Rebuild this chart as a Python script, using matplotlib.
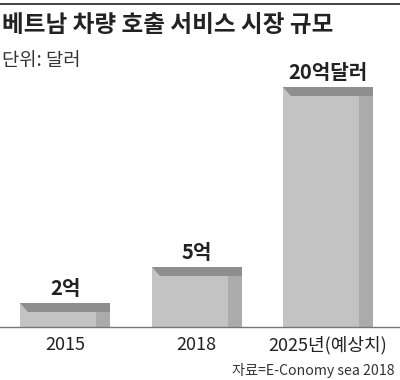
import matplotlib
matplotlib.use("Agg")
import matplotlib.pyplot as plt
from matplotlib.patches import Polygon

plt.rcParams['font.family'] = ['Noto Sans CJK KR', 'DejaVu Sans']

# data
years = ['2015', '2018', '2025년(예상치)']
values = [2, 5, 20]
value_labels = ['2억', '5억', '20억달러']

title = '베트남 차량 호출 서비스 시장 규모'
unit = '단위: 달러'
source = '자료=E-Conomy sea 2018'

face = '#c3c3c3'
top_c = '#8e8e8e'
side_c = '#ababab'

fig = plt.figure(figsize=(4, 3.8), dpi=100)

# axes: baseline at y=327px, 12 px per unit, ylim 0..20
ax = fig.add_axes([0, 53 / 380, 1, 240 / 380])
ax.set_xlim(-65 / 131.5, 2 + 72 / 131.5)
ax.set_ylim(0, 20)
ax.axis('off')

px_x = 1 / 131.5   # data units per pixel
px_y = 1 / 12.0
w = 90 * px_x

xs = list(range(len(values)))
ax.bar(xs, values, width=w, color=face, zorder=1)

for x, v, lab in zip(xs, values, value_labels):
    x0 = x - w / 2
    x1 = x + w / 2
    strip = 9 * px_y
    # darker top strip with bevelled left corner
    ax.add_patch(Polygon([(x0, v), (x1, v), (x1, v - strip), (x0 + 8 * px_x, v - strip)],
                         closed=True, color=top_c, lw=0, zorder=2))
    # shaded right side
    ax.add_patch(Polygon([(x1 - 14 * px_x, 0), (x1, 0), (x1, v - strip),
                          (x1 - 14 * px_x, v - strip)],
                         closed=True, color=side_c, lw=0, zorder=2))
    ax.text(x, v + 4 * px_y, lab, ha='center', va='bottom', fontsize=14.5,
            fontweight='bold', color='#222222', clip_on=False)
    ax.text(x, -9 * px_y, years[x], ha='center', va='top', fontsize=13,
            color='#222222', clip_on=False)

ax.axhline(0, color='#777777', lw=1, zorder=3, clip_on=False)

# top rule
fig.add_artist(plt.Line2D([0, 1], [1 - 4 / 380, 1 - 4 / 380], color='#333333', lw=1.3))

fig.text(2 / 400, 1 - 13 / 380, title, ha='left', va='top', fontsize=17,
         fontweight='bold', color='#222222')
fig.text(2 / 400, 1 - 50 / 380, unit, ha='left', va='top', fontsize=13.5,
         color='#333333')
fig.text(395 / 400, 2 / 380, source, ha='right', va='bottom', fontsize=10.2,
         color='#333333')

fig.savefig('out.png', dpi=100)
